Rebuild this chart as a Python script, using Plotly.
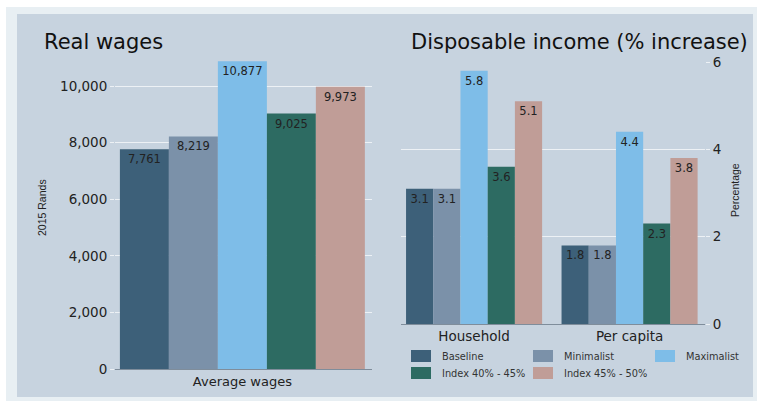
import plotly.graph_objects as go

# ---- data -------------------------------------------------------------
scenarios = ["Baseline", "Minimalist", "Maximalist", "Index 40% - 45%", "Index 45% - 50%"]
wage_category = ["Average wages"]
real_wages = [7761, 8219, 10877, 9025, 9973]          # 2015 Rands

income_categories = ["Household", "Per capita"]
household_increase = [3.1, 3.1, 5.8, 3.6, 5.1]        # % increase
per_capita_increase = [1.8, 1.8, 4.4, 2.3, 3.8]       # % increase

wage_ticks = [0, 2000, 4000, 6000, 8000, 10000]
pct_ticks = [0, 2, 4, 6]

# ---- styling ----------------------------------------------------------
colors = ["#3d6079", "#7b91a9", "#7ebde8", "#2d6b62", "#c09d97"]
W, H = 757, 401
FONT = "DejaVu Sans, Liberation Sans, Arial, sans-serif"
TEXT = "#222222"
PANEL = "#c7d3df"
BAND = "#e8eff3"
GRID = "#edf1f5"


def px_x(p):
    return p / W


def px_y(p):
    return 1 - p / H


fig = go.Figure()

# Real wages bars (left panel)
for name, val, col in zip(scenarios, real_wages, colors):
    fig.add_trace(go.Bar(
        x=wage_category, y=[val], name=name, marker=dict(color=col, line=dict(width=0)),
        texttemplate="%{y:,}", textposition="inside", insidetextanchor="end",
        textangle=0, textfont=dict(family=FONT, size=11.5, color=TEXT),
        xaxis="x", yaxis="y", showlegend=False, hoverinfo="name+y",
    ))

# Disposable income bars (right panel)
for i, (name, col) in enumerate(zip(scenarios, colors)):
    fig.add_trace(go.Bar(
        x=income_categories, y=[household_increase[i], per_capita_increase[i]],
        name=name, marker=dict(color=col, line=dict(width=0)),
        texttemplate="%{y:.1f}", textposition="inside", insidetextanchor="end",
        textangle=0, textfont=dict(family=FONT, size=11.5, color=TEXT),
        xaxis="x2", yaxis="y2", showlegend=False, hoverinfo="name+y",
    ))

tickfont = dict(family=FONT, size=13.5, color=TEXT)

fig.update_layout(
    width=W, height=H, autosize=False, showlegend=False,
    margin=dict(l=0, r=0, t=0, b=0, autoexpand=False),
    paper_bgcolor="white", plot_bgcolor="rgba(0,0,0,0)",
    barmode="group", bargap=0.125, bargroupgap=0,
    xaxis=dict(domain=[px_x(115), px_x(372)], anchor="y", range=[-0.455, 0.463],
               showline=True, linecolor="#7f8d9b", linewidth=1.2, automargin=False,
               showgrid=False, ticks="", tickfont=dict(family=FONT, size=13, color=TEXT),
               fixedrange=True),
    yaxis=dict(domain=[px_y(369), px_y(57.7)], anchor="x", range=[0, 11000],
               tickvals=wage_ticks, tickformat=",", showgrid=True, gridcolor=GRID,
               gridwidth=1, zeroline=False, showline=False, ticks="outside",
               automargin=False,
               ticklen=4, tickcolor=GRID, tickfont=tickfont, fixedrange=True),
    xaxis2=dict(domain=[px_x(401), px_x(705)], anchor="y2", range=[-0.47, 1.485],
                showline=True, linecolor="#7f8d9b", linewidth=1.2, automargin=False,
                showgrid=False, ticks="", tickfont=dict(family=FONT, size=13.5, color=TEXT),
                fixedrange=True),
    yaxis2=dict(domain=[px_y(324), px_y(62)], anchor="x2", side="right", range=[0, 6],
                tickvals=pct_ticks, showgrid=True, gridcolor=GRID, gridwidth=1,
                zeroline=False, showline=False, ticks="outside", ticklen=4,
                automargin=False,
                tickcolor=GRID, tickfont=tickfont, fixedrange=True),
)

# background band and panel
shapes = [
    dict(type="rect", xref="paper", yref="paper", layer="below",
         x0=px_x(6), x1=1, y0=0, y1=px_y(7), fillcolor=BAND, line=dict(width=0)),
    dict(type="rect", xref="paper", yref="paper", layer="below",
         x0=px_x(17), x1=px_x(753), y0=px_y(397), y1=px_y(14),
         fillcolor=PANEL, line=dict(width=0)),
]

annotations = [
    dict(text="Real wages", x=px_x(42), y=px_y(42), xref="paper", yref="paper",
         xanchor="left", yanchor="middle", showarrow=False,
         font=dict(family=FONT, size=21, color="#111111")),
    dict(text="Disposable income (% increase)", x=px_x(409), y=px_y(42),
         xref="paper", yref="paper", xanchor="left", yanchor="middle", showarrow=False,
         font=dict(family=FONT, size=21, color="#111111")),
    dict(text="2015 Rands", x=px_x(42), y=px_y(208), xref="paper", yref="paper",
         xanchor="center", yanchor="middle", textangle=-90, showarrow=False,
         font=dict(family="Liberation Sans, Arial, sans-serif", size=10.5, color=TEXT)),
    dict(text="Percentage", x=px_x(735), y=px_y(190), xref="paper", yref="paper",
         xanchor="center", yanchor="middle", textangle=-90, showarrow=False,
         font=dict(family="Liberation Sans, Arial, sans-serif", size=10.5, color=TEXT)),
]

# legend: three columns, two rows
col_x = [411, 533, 655]
row_y = [356, 373]
for i, (name, col) in enumerate(zip(scenarios, colors)):
    r, c = divmod(i, 3)
    x0, yc = col_x[c], row_y[r]
    shapes.append(dict(type="rect", xref="paper", yref="paper",
                       x0=px_x(x0), x1=px_x(x0 + 20), y0=px_y(yc + 6), y1=px_y(yc - 6),
                       fillcolor=col, line=dict(width=0)))
    annotations.append(dict(text=name, x=px_x(x0 + 29), y=px_y(yc), xref="paper",
                            yref="paper", xanchor="left", yanchor="middle",
                            showarrow=False,
                            font=dict(family=FONT, size=9.8, color="#333333")))

fig.update_layout(shapes=shapes, annotations=annotations)

fig.write_html("out.html")
